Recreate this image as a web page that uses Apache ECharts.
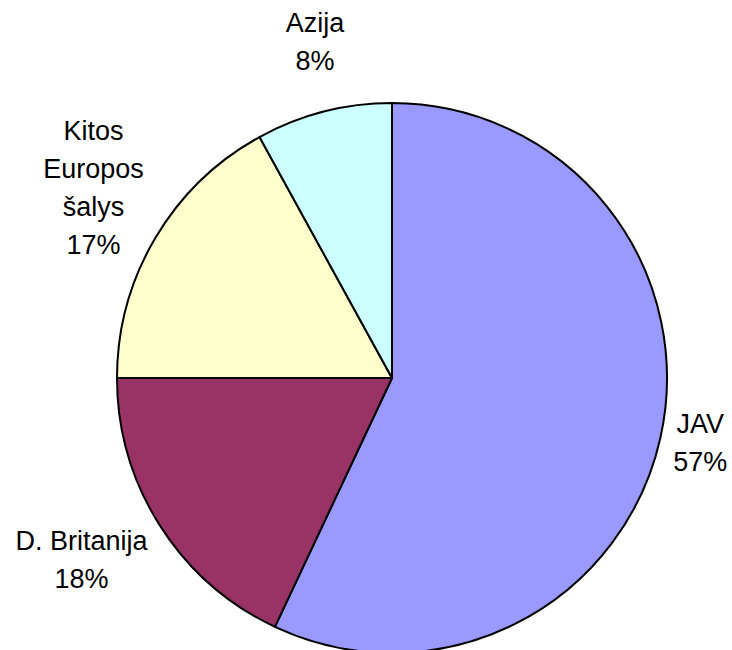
<!DOCTYPE html>
<html>
<head>
<meta charset="utf-8">
<style>
  html, body { margin: 0; padding: 0; background: #ffffff; }
  #chart { width: 732px; height: 650px; }
</style>
<script src="https://cdn.jsdelivr.net/npm/echarts@6/dist/echarts.min.js"></script>
</head>
<body>
<div id="chart"></div>
<script>
var names = ['JAV', 'D. Britanija', 'Kitos\nEuropos\nšalys', 'Azija'];
var values = [57, 18, 17, 8];
var colors = ['#9999FF', '#993366', '#FFFFCC', '#CCFFFF'];

// label placement: distance of label centre from pie centre, and angle tweak (deg)
var labelDist = [315, 360, 354, 345];
var labelTurn = [-0.7, 2.0, 1.9, 1.5];

var cx = 392, cy = 378, r = 275;

(function() {
  var total = values.reduce(function(a, b) { return a + b; }, 0);
  var mids = [];
  var acc = 0;
  values.forEach(function(v) {
    mids.push((acc + v / 2) / total * Math.PI * 2);
    acc += v;
  });

  var chart = echarts.init(document.getElementById('chart'), null, { renderer: 'svg' });
  chart.setOption({
    animation: false,
    series: [{
      type: 'pie',
      center: [cx, cy],
      radius: [0, r],
      startAngle: 90,
      clockwise: true,
      data: names.map(function(n, i) {
        return { name: n, value: values[i], itemStyle: { color: colors[i] } };
      }),
      itemStyle: { borderColor: '#000000', borderWidth: 2 },
      emphasis: { disabled: true },
      label: {
        show: true,
        position: 'outside',
        color: '#000000',
        fontFamily: 'Liberation Sans, Arial, sans-serif',
        fontSize: 27,
        lineHeight: 38,
        align: 'center',
        overflow: 'none',
        formatter: function(p) { return p.name + '\n' + Math.round(p.percent) + '%'; }
      },
      labelLine: { show: false },
      labelLayout: function(p) {
        var a = mids[p.dataIndex] + labelTurn[p.dataIndex] * Math.PI / 180;
        var d = labelDist[p.dataIndex];
        return {
          x: cx + d * Math.sin(a),
          y: cy - d * Math.cos(a),
          align: 'center',
          verticalAlign: 'middle'
        };
      }
    }]
  });
})();
</script>
</body>
</html>
